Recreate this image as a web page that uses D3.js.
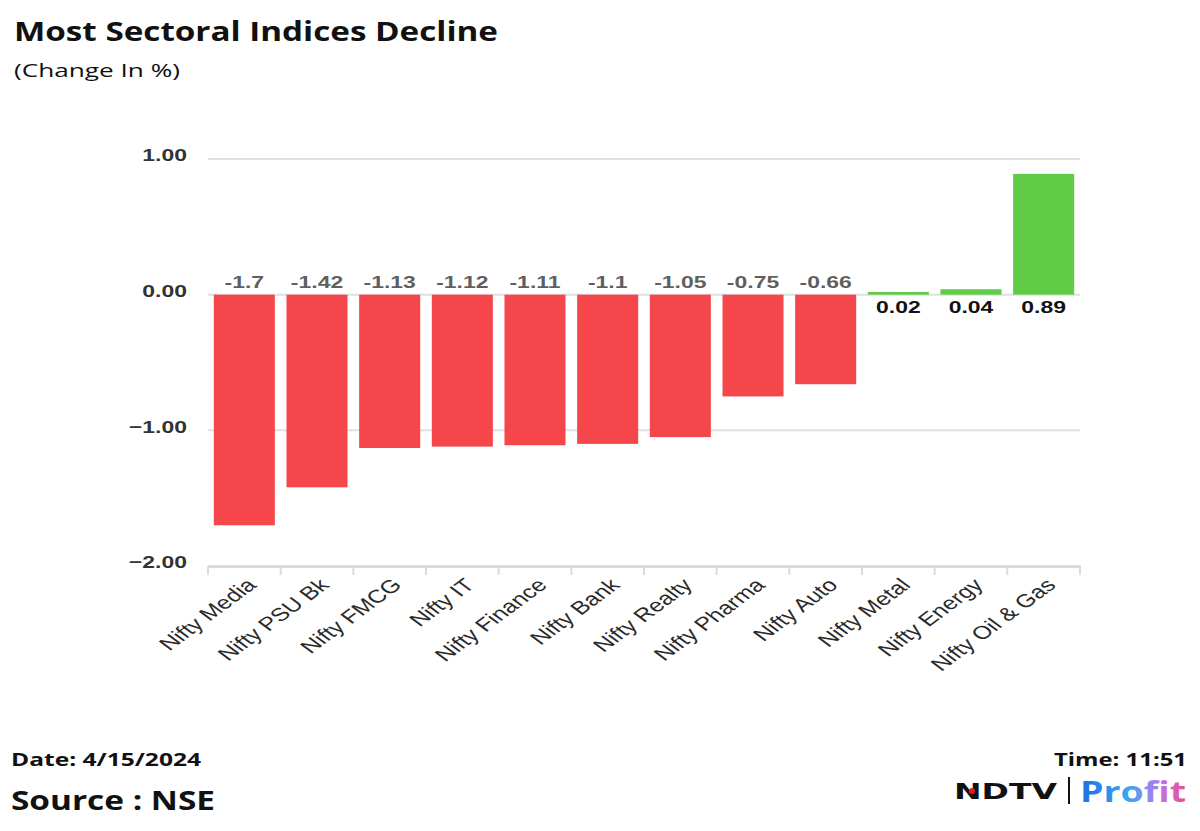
<!DOCTYPE html>
<html>
<head>
<meta charset="utf-8">
<script src="https://cdn.jsdelivr.net/npm/d3@7"></script>
<style>
  body { margin: 0; background: #fff; }
  svg { display: block; }
</style>
</head>
<body>
<div id="chart"></div>
<script>
// data
var categories = ["Nifty Media", "Nifty PSU Bk", "Nifty FMCG", "Nifty IT", "Nifty Finance", "Nifty Bank",
                  "Nifty Realty", "Nifty Pharma", "Nifty Auto", "Nifty Metal", "Nifty Energy", "Nifty Oil & Gas"];
var changes = [-1.7, -1.42, -1.13, -1.12, -1.11, -1.1, -1.05, -0.75, -0.66, 0.02, 0.04, 0.89];
var yTicks = [-2, -1, 0, 1];

var W = 1200, H = 831;
var SX = 1.35; // the picture is stretched sideways
var svg = d3.select("#chart").append("svg")
    .attr("width", W)
    .attr("height", H);

var x = d3.scaleBand()
    .domain(categories)
    .range([208, 1080])
    .paddingInner(0.16)
    .paddingOuter(0.08);

var y = d3.scaleLinear()
    .domain([-2, 1])
    .range([566, 159]);

function label(t, px, py, size, txt, anchor, len) {
    var e = svg.append("text").attr("x", px).attr("y", py)
        .attr("text-anchor", anchor || "start")
        .style("font-family", "'Open Sans', sans-serif").style("font-weight", 700)
        .style("font-size", size + "px").attr("fill", "#111")
        .text(txt);
    if (len) e.attr("textLength", len).attr("lengthAdjust", "spacingAndGlyphs");
    return e;
}

// titles
label(svg, 14, 41, 26, "Most Sectoral Indices Decline", "start", 484);
label(svg, 14, 77, 19, "(Change In %)", "start", 166).style("font-weight", 400);

// gridlines
svg.append("g").selectAll("line")
    .data(yTicks.filter(function(d) { return d != -2; }))
    .enter().append("line")
    .attr("x1", 208).attr("x2", 1080)
    .attr("y1", function(d) { return y(d); })
    .attr("y2", function(d) { return y(d); })
    .attr("stroke", "#e0e0e0").attr("stroke-width", 2);

// y axis labels
var yAxis = d3.axisLeft(y).tickValues(yTicks).tickFormat(d3.format(".2f")).tickSize(0);
var gy = svg.append("g").attr("transform", "translate(208,0)").call(yAxis);
gy.select(".domain").remove();
gy.selectAll("text")
    .attr("x", 0).attr("dy", "0.35em")
    .attr("transform", "translate(-21,-4) scale(" + SX + ",1)")
    .style("font-family", "'Liberation Sans', Arial, sans-serif").style("font-weight", 700)
    .style("font-size", "17px").attr("fill", "#333");

// x axis
var xAxis = d3.axisBottom(x).tickSize(0).tickPadding(0);
var gx = svg.append("g").attr("transform", "translate(0," + y(-2) + ")").call(xAxis);
gx.select(".domain").attr("stroke", "#dcdcdc").attr("stroke-width", 3);
gx.selectAll(".tick text").remove();

// tick marks at band boundaries
var bounds = categories.map(function(c) { return x(c) - x.step() * x.paddingInner() / 2; });
bounds.push(1080);
bounds[0] = 208;
svg.append("g").selectAll("line")
    .data(bounds).enter().append("line")
    .attr("x1", function(d) { return d; }).attr("x2", function(d) { return d; })
    .attr("y1", y(-2)).attr("y2", y(-2) + 9)
    .attr("stroke", "#dcdcdc").attr("stroke-width", 2);

// category labels
svg.append("g").selectAll("text")
    .data(categories).enter().append("text")
    .attr("transform", function(d) {
        return "translate(" + (x(d) + x.bandwidth() / 2 + 1) + "," + (y(-2) + 11) + ") scale(" + SX + ",1) rotate(-45)";
    })
    .attr("text-anchor", "end")
    .attr("dy", "0.7em")
    .style("font-family", "'Liberation Sans', Arial, sans-serif")
    .style("font-size", "18.5px").attr("fill", "#2a2a2a")
    .text(function(d) { return d; });

// bars
svg.append("g").selectAll("rect")
    .data(changes).enter().append("rect")
    .attr("x", function(d, i) { return x(categories[i]); })
    .attr("width", x.bandwidth())
    .attr("y", function(d) { return y(Math.max(0, d)); })
    .attr("height", function(d) { return Math.abs(y(d) - y(0)); })
    .attr("fill", function(d) { return d < 0 ? "#f4464b" : "#60cb46"; });

// value labels
svg.append("g").selectAll("text")
    .data(changes).enter().append("text")
    .attr("transform", function(d, i) {
        var cx = x(categories[i]) + x.bandwidth() / 2;
        var cy = d < 0 ? y(0) - 7 : y(0) + 18;
        return "translate(" + cx + "," + cy + ") scale(" + SX + ",1)";
    })
    .attr("text-anchor", "middle")
    .style("font-family", "'Liberation Sans', Arial, sans-serif").style("font-weight", 700)
    .style("font-size", "17px")
    .attr("fill", function(d) { return d < 0 ? "#5f5f5f" : "#111"; })
    .text(function(d) { return d; });

// footer
label(svg, 11, 766, 18, "Date: 4/15/2024", "start", 190);
label(svg, 11, 810, 27, "Source : NSE", "start", 204);
label(svg, 1187, 766, 18, "Time: 11:51", "end", 133);

// logo
var grad = svg.append("defs").append("linearGradient").attr("id", "pg")
    .attr("x1", "0%").attr("x2", "100%");
grad.append("stop").attr("offset", "0%").attr("stop-color", "#1a6fe6");
grad.append("stop").attr("offset", "45%").attr("stop-color", "#3aa6f2");
grad.append("stop").attr("offset", "75%").attr("stop-color", "#b878ec");
grad.append("stop").attr("offset", "100%").attr("stop-color", "#f04a8a");

svg.append("text").attr("x", 954).attr("y", 799)
    .attr("textLength", 103).attr("lengthAdjust", "spacingAndGlyphs")
    .style("font-family", "'DejaVu Sans', sans-serif").style("font-weight", 700)
    .style("font-size", "21px").attr("fill", "#111")
    .text("NDTV");
svg.append("circle").attr("cx", 972).attr("cy", 791).attr("r", 3).attr("fill", "#e21b22");
svg.append("line").attr("x1", 1069).attr("x2", 1069).attr("y1", 777).attr("y2", 804)
    .attr("stroke", "#111").attr("stroke-width", 2);
svg.append("text").attr("x", 1080).attr("y", 802)
    .attr("textLength", 106).attr("lengthAdjust", "spacingAndGlyphs")
    .style("font-family", "'Open Sans', sans-serif").style("font-weight", 700)
    .style("font-size", "28px").attr("fill", "url(#pg)")
    .text("Profit");
</script>
</body>
</html>
